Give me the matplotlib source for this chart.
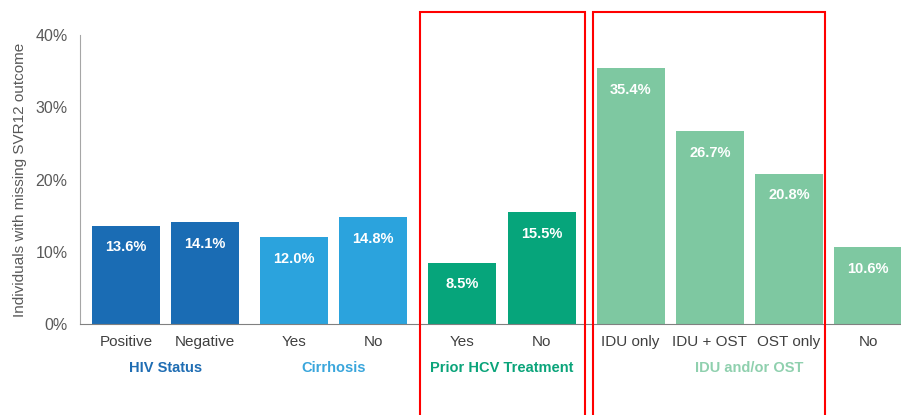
import matplotlib
matplotlib.use("Agg")
import matplotlib.pyplot as plt
from matplotlib.patches import Rectangle

plt.rcParams["font.family"] = ["Liberation Sans", "DejaVu Sans"]

# data
categories = ["Positive", "Negative", "Yes", "No", "Yes", "No",
              "IDU only", "IDU + OST", "OST only", "No"]
values = [13.6, 14.1, 12.0, 14.8, 8.5, 15.5, 35.4, 26.7, 20.8, 10.6]
group_names = ["HIV Status", "Cirrhosis", "Prior HCV Treatment", "IDU and/or OST"]
group_sizes = [2, 2, 2, 4]
bar_colors = ["#1a6cb4", "#2ba3dd", "#06a57b", "#7ec8a1"]
label_colors = ["#1f6db3", "#3aa6dc", "#0ba47a", "#8fd0ae"]
yticks = [0, 10, 20, 30, 40]

fig = plt.figure(figsize=(9.01, 4.15), dpi=100)
ax = fig.add_axes([80 / 901, 1 - 324 / 415, 1 - 80 / 901, (324 - 35) / 415])

# positions: unit spacing inside a group, wider gap between groups
gap = 1.127
xs, cols, centers = [], [], []
start = 0.0
for g, n in enumerate(group_sizes):
    pos = [start + i for i in range(n)]
    xs += pos
    cols += [bar_colors[g]] * n
    centers.append(sum(pos) / n)
    start = pos[-1] + gap

bars = ax.bar(xs, values, width=0.86, color=cols, zorder=2)
for x, v in zip(xs, values):
    ax.text(x, v - 3.0, f"{v:.1f}%", ha="center", va="center",
            color="white", fontsize=10.5, fontweight="bold")

ax.set_xlim(-0.582, xs[-1] + 0.418)
ax.set_ylim(0, 40)
ax.set_yticks(yticks)
ax.set_yticklabels([f"{t}%" for t in yticks], fontsize=11.5, color="#595959")
ax.set_xticks(xs)
ax.set_xticklabels(categories, fontsize=11, color="#404040")
ax.tick_params(length=0, pad=8)
ax.tick_params(axis="y", pad=9)
for s in ["top", "right"]:
    ax.spines[s].set_visible(False)
ax.spines["left"].set_color("#a6a6a6")
ax.spines["bottom"].set_color("#808080")
ax.set_ylabel("Individuals with missing SVR12 outcome", fontsize=11,
              color="#595959", labelpad=6)

# group labels under the ticks
for c, name, lc in zip(centers, group_names, label_colors):
    ax.annotate(name, xy=(c, 0), xycoords=("data", "axes fraction"),
                xytext=(0, -32), textcoords="offset points",
                ha="center", va="center", fontsize=10.5,
                fontweight="bold", color=lc)

# red highlight boxes
for x0, x1 in [(420, 585), (593, 825)]:
    fig.patches.append(Rectangle((x0 / 901, -0.05), (x1 - x0) / 901,
                                 1.05 - 12 / 415, transform=fig.transFigure,
                                 fill=False, edgecolor="red", linewidth=1.5))

fig.savefig("out.png", dpi=100)
